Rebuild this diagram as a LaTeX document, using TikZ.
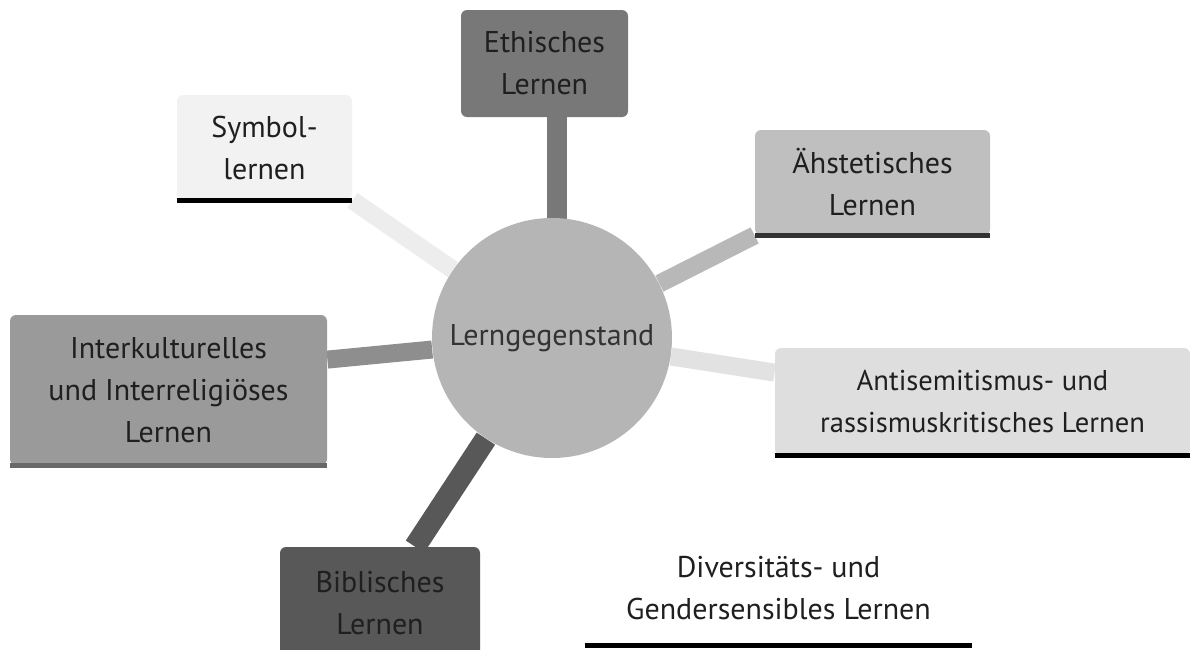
\documentclass[tikz,border=0pt]{standalone}
\usepackage{fontspec}
\setmainfont{PT Sans}
\usetikzlibrary{backgrounds}

\definecolor{ethgray}{HTML}{787878}
\definecolor{symgray}{HTML}{F2F2F2}
\definecolor{symlink}{HTML}{EDEDED}
\definecolor{aehgray}{HTML}{BFBFBF}
\definecolor{aehlink}{HTML}{B8B8B8}
\definecolor{antigray}{HTML}{DEDEDE}
\definecolor{antilink}{HTML}{E2E2E2}
\definecolor{ikgray}{HTML}{9A9A9A}
\definecolor{iklink}{HTML}{8E8E8E}
\definecolor{ikrule}{HTML}{686868}
\definecolor{bibgray}{HTML}{585858}
\definecolor{ctrgray}{HTML}{B5B5B5}

\begin{document}
\begin{tikzpicture}[x=0.5pt,y=-0.5pt,
		box/.style={rounded corners=3pt, align=center, inner sep=0pt,
				text=black!88, font=\fontsize{15}{21}\selectfont},
		link/.style={line width=9pt},
		rule/.style={line width=2.5pt}]
	\useasboundingbox (0,0) rectangle (1190,649);

	% centre
	\node[circle, fill=ctrgray, minimum size=120pt, inner sep=0pt,
		text=black!80, font=\fontsize{15}{21}\selectfont] (ctr) at (552,338) {Lerngegenstand};

	% boxes
	\node[box, fill=ethgray, minimum width=83.5pt, minimum height=53.5pt] (eth) at (544.5,63.5) {Ethisches\\Lernen};
	\node[box, fill=symgray, minimum width=87.5pt, minimum height=52.5pt] (sym) at (264.5,147.5) {Symbol-\\lernen};
	\node[box, fill=aehgray, minimum width=117.5pt, minimum height=52.5pt] (aeh) at (872.5,182.5) {Ähstetisches\\Lernen};
	\node[box, fill=antigray, minimum width=207.5pt, minimum height=53.5pt,
		font=\fontsize{14.3}{21}\selectfont] (anti) at (982.5,401.5) {Antisemitismus- und\\rassismuskritisches Lernen};
	\node[box, fill=ikgray, minimum width=158.5pt, minimum height=75pt] (ik) at (168.5,390) {Interkulturelles\\und Interreligiöses\\Lernen};
	\node[box, fill=bibgray, minimum width=100pt, minimum height=56.5pt] (bib) at (380,603.5) {Biblisches\\Lernen};
	\node[box, minimum width=193.5pt, minimum height=57pt] (div) at (778.5,588) {Diversitäts- und\\Gendersensibles Lernen};

	% lines under the boxes
	\draw[rule, black] (sym.south west) -- (sym.south east);
	\draw[rule, black!80] (aeh.south west) -- (aeh.south east);
	\draw[rule, black] (anti.south west) -- (anti.south east);
	\draw[rule, ikrule] (ik.south west) -- (ik.south east);
	\draw[rule, black] (div.south west) -- (div.south east);

	% links
	\begin{scope}[on background layer]
		\draw[link, line width=10pt, ethgray] ([xshift=6.25pt]eth.south) -- ++(0,160);
		\draw[link, symlink] (ctr) -- (sym.south east);
		\draw[link, aehlink] (ctr) -- (aeh.south west);
		\draw[link, antilink] (ctr) -- ([yshift=-12.5pt]anti.north west);
		\draw[link, iklink] (ctr) -- ([yshift=-22.5pt]ik.north east);
		\draw[link, line width=11pt, bibgray] (ctr) -- ([xshift=17.5pt]bib.north);
	\end{scope}
\end{tikzpicture}
\end{document}
